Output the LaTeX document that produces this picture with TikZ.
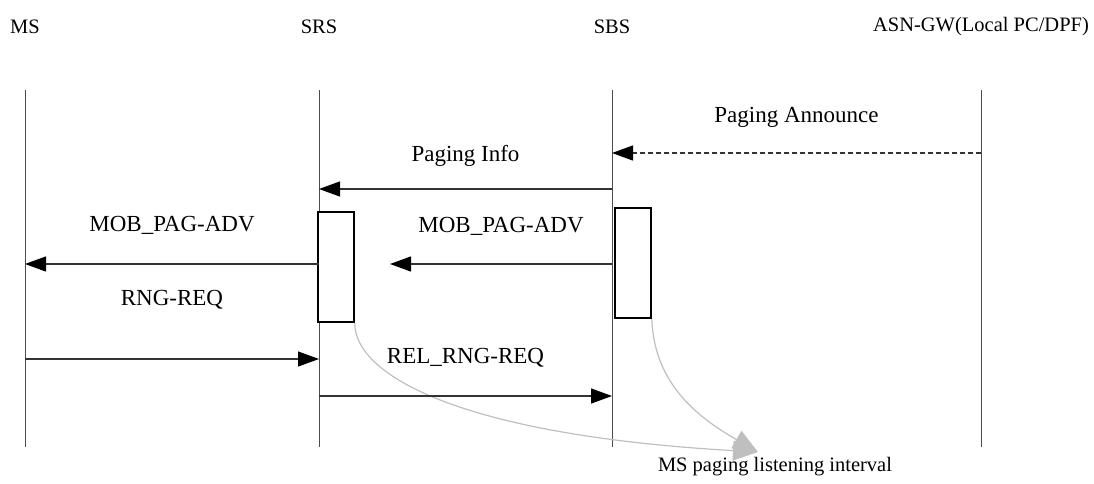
\documentclass[tikz,border=0pt]{standalone}
\usepackage{fontspec}
\setmainfont{Liberation Serif}
\usetikzlibrary{arrows.meta}
\tikzset{
    lifeline/.style={draw=black!70, line width=0.8pt},
    msg/.style={draw=black!80, line width=1.2pt, -{Triangle[length=21pt, width=15pt, color=black]}},
    msgdash/.style={msg, dash pattern=on 5pt off 3pt},
    actbox/.style={draw=black, line width=1.6pt, fill=white, inner sep=0pt, minimum width=36pt, minimum height=110pt},
    interval/.style={draw=black!25, line width=1.2pt, -{Triangle[length=25pt, width=20pt]}},
    lbl/.style={font=\fontsize{23}{27}\selectfont},
    hdr/.style={font=\fontsize{20.5}{24}\selectfont}
}
\newcommand{\lifeline}[3]{
    \node[hdr] (#1) at (#2, -27) {#3};
    \coordinate (#1top) at (#2, -90);
    \coordinate (#1bot) at (#2, -447);
    \draw[lifeline] (#1top) -- (#1bot);
}
\newcommand{\sendmsg}[6][msg]{
    \coordinate (#2#4) at (#2top |- 0, -#4);
    \coordinate (#3#4) at (#3top |- 0, -#4);
    \draw[#1] (#2#4) -- (#3#4) node[lbl, midway, yshift=#5] (m#2#4) {#6};
}

\begin{document}
\begin{tikzpicture}[x=1pt, y=1pt]
    \useasboundingbox (0, 0) rectangle (1094, -483);

    \lifeline{MS}{25}{MS};
    \lifeline{SRS}{319}{SRS};
    \lifeline{SBS}{612}{SBS};
    \lifeline{GW}{981}{ASN-GW(Local PC/DPF)};
    \coordinate (ADVtop) at (390, -90);

    \node[actbox] (srsbox) at (336, -267) {};
    \node[actbox] (sbsbox) at (633, -263) {};

    % listening interval
    \coordinate (listen) at (758, -452);
    \draw[interval] (srsbox.south east) .. controls (354, -375) and (460, -435) .. (listen);
    \draw[interval] (sbsbox.south east) to[out=-88, in=150] (listen);
    \node[hdr] (interval) at (775, -467) {MS paging listening interval};

    \sendmsg[msgdash]{GW}{SBS}{153}{36pt}{Paging Announce};
    \sendmsg{SBS}{SRS}{189}{33pt}{Paging Info};
    \sendmsg{SRS}{MS}{264}{39pt}{MOB\_PAG-ADV};
    \sendmsg{SBS}{ADV}{264}{38pt}{MOB\_PAG-ADV};
    \sendmsg{MS}{SRS}{359}{59pt}{RNG-REQ};
    \sendmsg{SRS}{SBS}{396}{38pt}{REL\_RNG-REQ};
\end{tikzpicture}
\end{document}
